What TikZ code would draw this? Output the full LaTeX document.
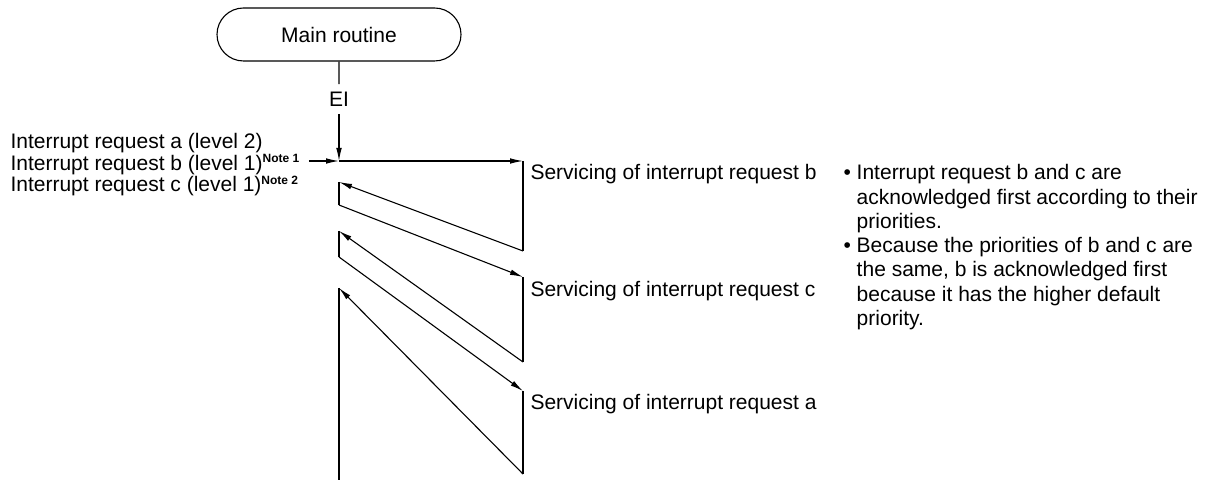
\documentclass[tikz,border=0pt]{standalone}
\usepackage{fontspec}
\setmainfont{Liberation Sans}
\usetikzlibrary{arrows.meta,positioning,shapes.misc}
\newcommand{\note}[1]{\textsuperscript{\fontsize{6}{7}\selectfont\bfseries Note #1}}
\newcommand{\ind}{\phantom{\textbullet\ }}

\begin{document}
\begin{tikzpicture}[
  x=0.5pt,y=-0.5pt,
  font=\fontsize{10.5}{12.15}\selectfont,
  line width=0.55pt,
  term/.style={draw,rounded rectangle,minimum width=122pt,minimum height=26.5pt,inner sep=0pt},
  req/.style={anchor=base west,inner sep=4pt},
  srv/.style={anchor=base west,inner sep=0pt},
  a/.style={-{Latex[length=6.5pt,width=2.8pt]}}
]
\useasboundingbox (0,0) rectangle (1205,480);

% main routine
\node[term] (main) at (339,34.5) {Main routine};
\node[inner sep=3.5pt] (ei) at (339,99) {EI};

% requests
\node[req] (qa) at (2,149) {Interrupt request a (level 2)};
\node[req] (qb) at (2,170.5) {Interrupt request b (level 1)\note{1}};
\node[req] (qc) at (2,192) {Interrupt request c (level 1)\note{2}};

% turning points
\coordinate (s0) at (339,161);
\coordinate (b0) at (523,161);
\coordinate (b1) at (523,251);
\coordinate (r1) at (339,182);
\coordinate (r1e) at (339,205);
\coordinate (c0) at (523,277);
\coordinate (c1) at (523,362);
\coordinate (r2) at (339,231);
\coordinate (r2e) at (339,257);
\coordinate (a0) at (523,391);
\coordinate (a1) at (523,474);
\coordinate (r3) at (339,288);
\coordinate (r3e) at (339,480);

% servicing
\node[srv] (sb) at (530,180) {Servicing of interrupt request b};
\node[srv] (sc) at (530,296.5) {Servicing of interrupt request c};
\node[srv] (sa) at (530,409.5) {Servicing of interrupt request a};

% notes
\node[anchor=north west,inner sep=0pt,align=left] (notes) at (843,164)
  {\textbullet\ Interrupt request b and c are\\
   \ind acknowledged first according to their\\
   \ind priorities.\\
   \textbullet\ Because the priorities of b and c are\\
   \ind the same, b is acknowledged first\\
   \ind because it has the higher default\\
   \ind priority.};

\draw (main) -- (ei);
\draw[a] (ei) -- (s0);
\draw[a] (qb.east |- s0) -- (s0);
\draw[a] (s0) -- (b0);

\foreach \x/\y in {b0/b1,r1/r1e,c0/c1,r2/r2e,a0/a1,r3/r3e} \draw (\x) -- (\y);
\foreach \x/\y in {b1/r1,c1/r2,a1/r3} \draw[a] (\x) -- (\y);
\foreach \x/\y in {r1e/c0,r2e/a0} \draw[a] (\x) -- (\y);
\end{tikzpicture}
\end{document}
